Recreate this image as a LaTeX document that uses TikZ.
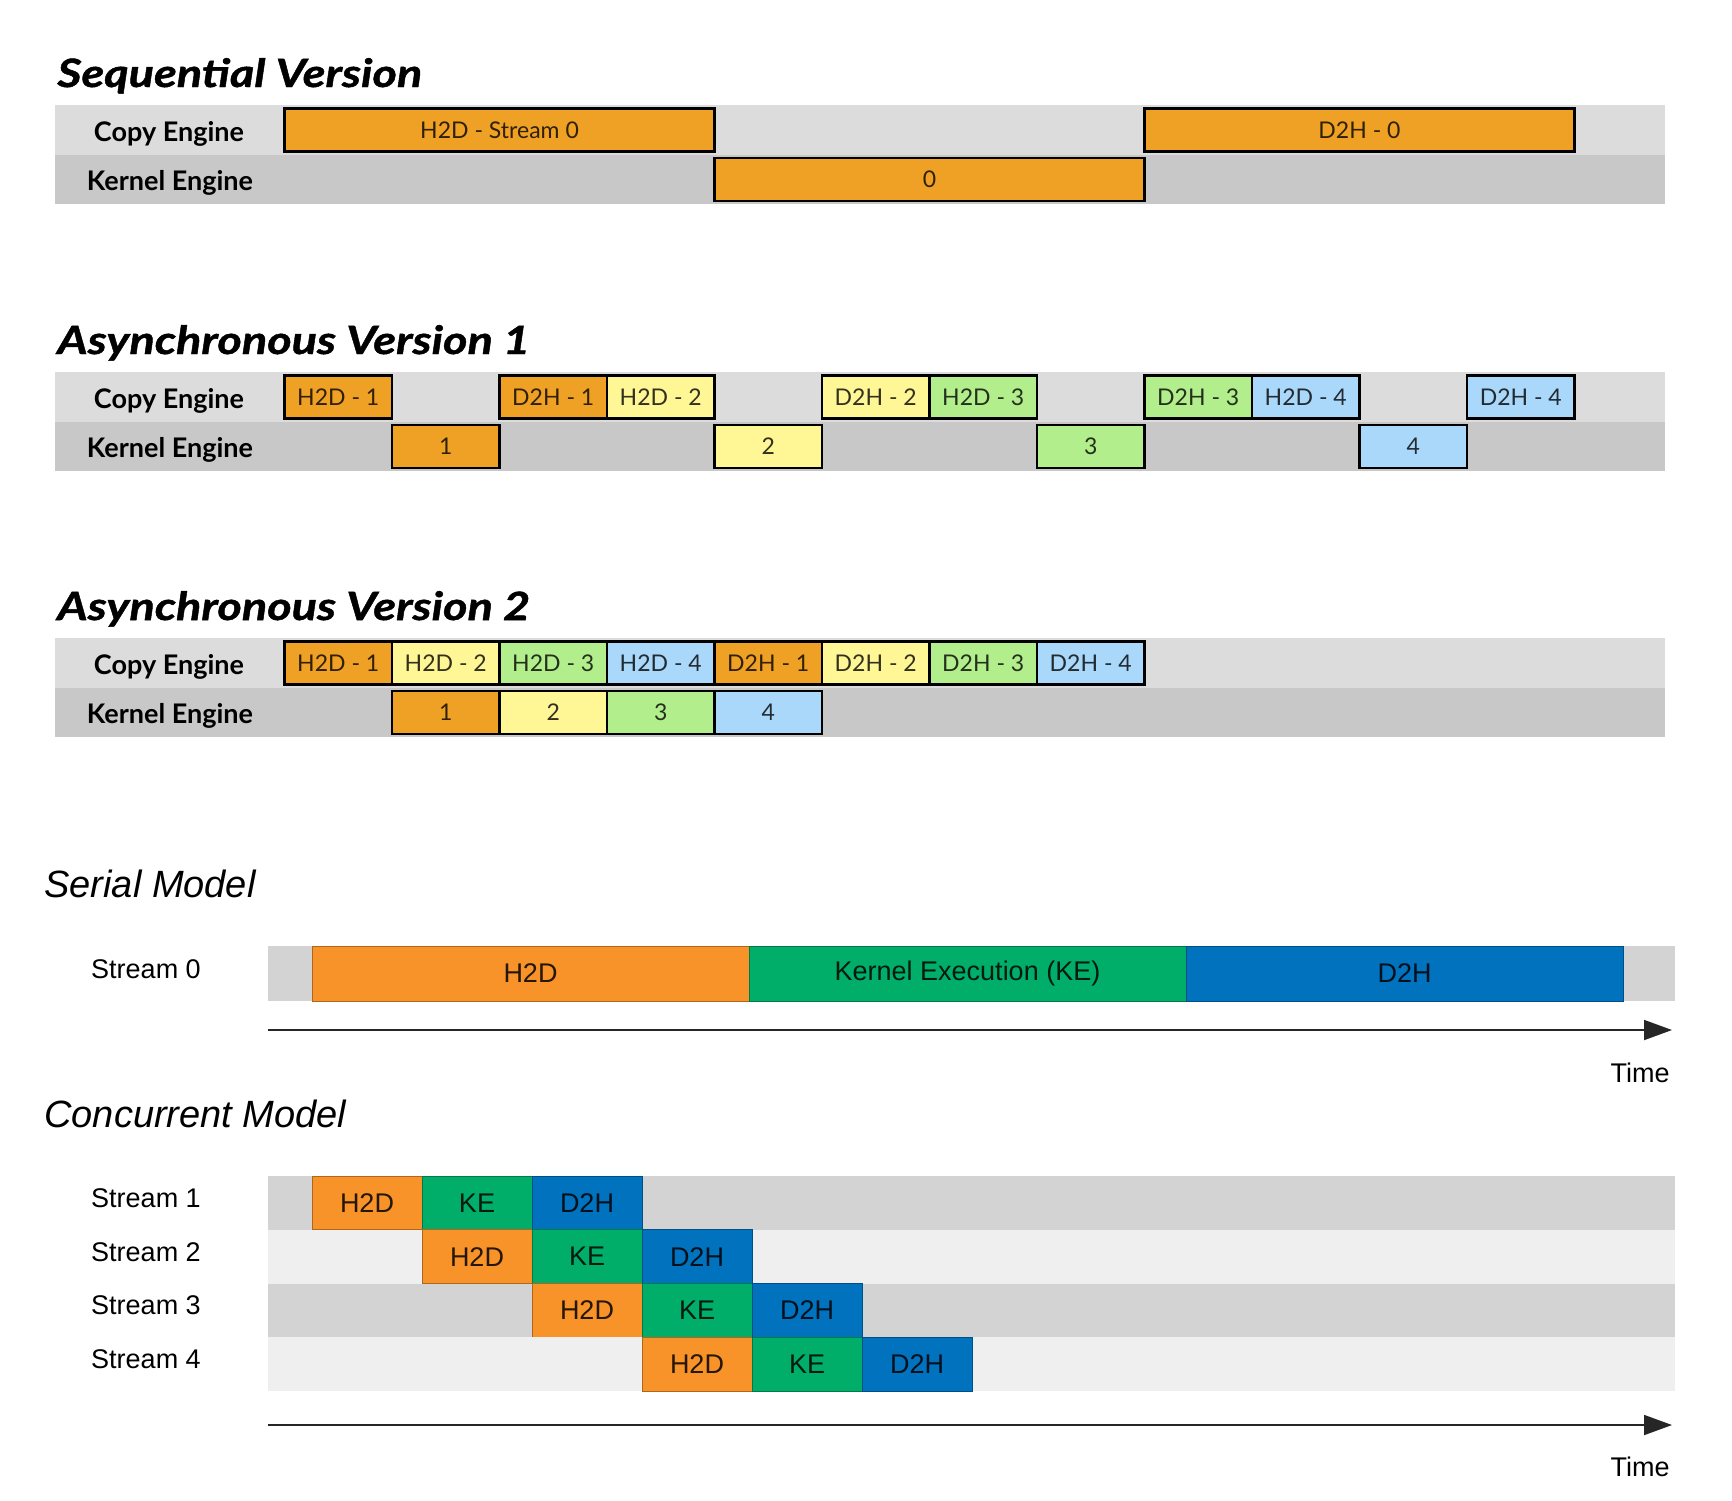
\documentclass[tikz,border=0pt]{standalone}
\usepackage{fontspec}
\setmainfont{Liberation Sans}
\newfontfamily\gillfont{Lato}
\newfontfamily\titlefont[FakeStretch=1.2,FakeBold=1.2]{Lato}
\usetikzlibrary{arrows.meta,positioning}

\definecolor{eorange}{RGB}{238,161,36}
\definecolor{eyellow}{RGB}{255,246,150}
\definecolor{egreen}{RGB}{178,238,140}
\definecolor{eblue}{RGB}{170,216,250}
\definecolor{copyrow}{RGB}{220,220,220}
\definecolor{kernrow}{RGB}{200,200,200}
\definecolor{sorange}{RGB}{247,147,41}
\definecolor{sgreen}{RGB}{0,174,106}
\definecolor{sblue}{RGB}{0,114,190}
\definecolor{darkrow}{RGB}{211,211,211}
\definecolor{lightrow}{RGB}{239,239,239}

\tikzset{
  title/.style={anchor=base west, inner sep=0pt, font=\titlefont\bfseries\itshape\fontsize{19.5}{22}\selectfont},
  engine/.style={inner sep=0pt, font=\gillfont\bfseries\fontsize{13.5}{15}\selectfont},
  ebox/.style={draw=black, line width=1.4pt, inner sep=0pt, minimum height=21.5pt, fill=#1, text=#1!20!black, font=\gillfont\fontsize{11.5}{13}\selectfont},
  model/.style={anchor=base west, inner sep=0pt, font=\itshape\fontsize{19}{22}\selectfont},
  stream/.style={inner sep=0pt, font=\fontsize{13.5}{15}\selectfont},
  sbox/.style={draw=#1!70!black, line width=0.4pt, inner sep=0pt, fill=#1, text=#1!15!black, font=\fontsize{13.5}{15}\selectfont},
  timeline/.style={line width=0.9pt, black!85, -{Triangle[length=14pt,width=10pt]}}
}

\newcommand{\engbox}[6]{% name, start slot, slots, row centre, colour, label
\node[ebox=#5, minimum width=#3*53.75pt] (#1) at ({284.5+(#2+#3/2)*107.5},{#4}) {#6};
}
\newcommand{\strbox}[7]{% name, left, width, top, height, colour, label
\node[sbox=#6, minimum width=#3*0.5pt, minimum height=#5*0.5pt] (#1) at ({#2+#3/2},{#4+#5/2}) {#7};
}

\begin{document}
\begin{tikzpicture}[x=0.5pt,y=-0.5pt]
\useasboundingbox (0,0) rectangle (1732,1500);

%%%%% sequential version
\def\ytop{105}
\fill[copyrow] (55,\ytop) rectangle (1665,{\ytop+50});
\fill[kernrow] (55,{\ytop+50}) rectangle (1665,{\ytop+99});
\node[title] (seqtitle) at (57,{\ytop-18}) {Sequential Version};
\node[engine] (seqcopy) at (169,{\ytop+28.5}) {Copy Engine};
\node[engine] (seqkern) at (170,{\ytop+78}) {Kernel Engine};
\engbox{seqh}{0}{4}{\ytop+25}{eorange}{H2D - Stream 0}
\engbox{seqk}{4}{4}{\ytop+74.5}{eorange}{0}
\engbox{seqd}{8}{4}{\ytop+25}{eorange}{D2H - 0}

%%%%% asynchronous version 1
\def\ytop{372}
\fill[copyrow] (55,\ytop) rectangle (1665,{\ytop+50});
\fill[kernrow] (55,{\ytop+50}) rectangle (1665,{\ytop+99});
\node[title] (aonetitle) at (57,{\ytop-18}) {Asynchronous Version 1};
\node[engine] (aonecopy) at (169,{\ytop+28.5}) {Copy Engine};
\node[engine] (aonekern) at (170,{\ytop+78}) {Kernel Engine};
\foreach \i/\c in {1/eorange,2/eyellow,3/egreen,4/eblue}
{
\engbox{aoneh\i}{3*\i-3}{1}{\ytop+25}{\c}{H2D - \i}
\engbox{aonek\i}{3*\i-2}{1}{\ytop+74.5}{\c}{\i}
\engbox{aoned\i}{3*\i-1}{1}{\ytop+25}{\c}{D2H - \i}
}

%%%%% asynchronous version 2
\def\ytop{638}
\fill[copyrow] (55,\ytop) rectangle (1665,{\ytop+50});
\fill[kernrow] (55,{\ytop+50}) rectangle (1665,{\ytop+99});
\node[title] (atwotitle) at (57,{\ytop-18}) {Asynchronous Version 2};
\node[engine] (atwocopy) at (169,{\ytop+28.5}) {Copy Engine};
\node[engine] (atwokern) at (170,{\ytop+78}) {Kernel Engine};
\foreach \i/\c in {1/eorange,2/eyellow,3/egreen,4/eblue}
{
\engbox{atwoh\i}{\i-1}{1}{\ytop+25}{\c}{H2D - \i}
\engbox{atwok\i}{\i}{1}{\ytop+74.5}{\c}{\i}
\engbox{atwod\i}{\i+3}{1}{\ytop+25}{\c}{D2H - \i}
}

%%%%% serial model
\node[model] (sertitle) at (44,897) {Serial Model};
\fill[darkrow] (268,946) rectangle (1675,1001);
\node[stream] (ser0) at (146,969) {Stream 0};
\strbox{serh}{312}{437}{946}{55}{sorange}{H2D}
\strbox{serk}{749}{437}{946}{55}{sgreen}{Kernel Execution (KE)}
\strbox{serd}{1186}{437}{946}{55}{sblue}{D2H}
\coordinate (sera) at (268,1030);
\coordinate (serb) at (1672,1030);
\draw[timeline] (sera) -- (serb);
\node[stream] (sertime) at (1640,1073) {Time};

%%%%% concurrent model
\node[model] (contitle) at (44,1127) {Concurrent Model};
\foreach \s/\rc in {1/darkrow,2/lightrow,3/darkrow,4/lightrow}
{
\pgfmathsetmacro{\ry}{1176+(\s-1)*53.75}
\pgfmathsetmacro{\rx}{312+(\s-1)*110}
\fill[\rc] (268,\ry) rectangle (1675,{\ry+53.75});
\node[stream] (str\s) at (146,{\ry+22}) {Stream \s};
\strbox{ch\s}{\rx}{110}{\ry}{53.75}{sorange}{H2D}
\strbox{ck\s}{\rx+110}{110}{\ry}{53.75}{sgreen}{KE}
\strbox{cd\s}{\rx+220}{110}{\ry}{53.75}{sblue}{D2H}
}
\coordinate (cona) at (268,1425);
\coordinate (conb) at (1672,1425);
\draw[timeline] (cona) -- (conb);
\node[stream] (contime) at (1640,1467) {Time};

\end{tikzpicture}
\end{document}
